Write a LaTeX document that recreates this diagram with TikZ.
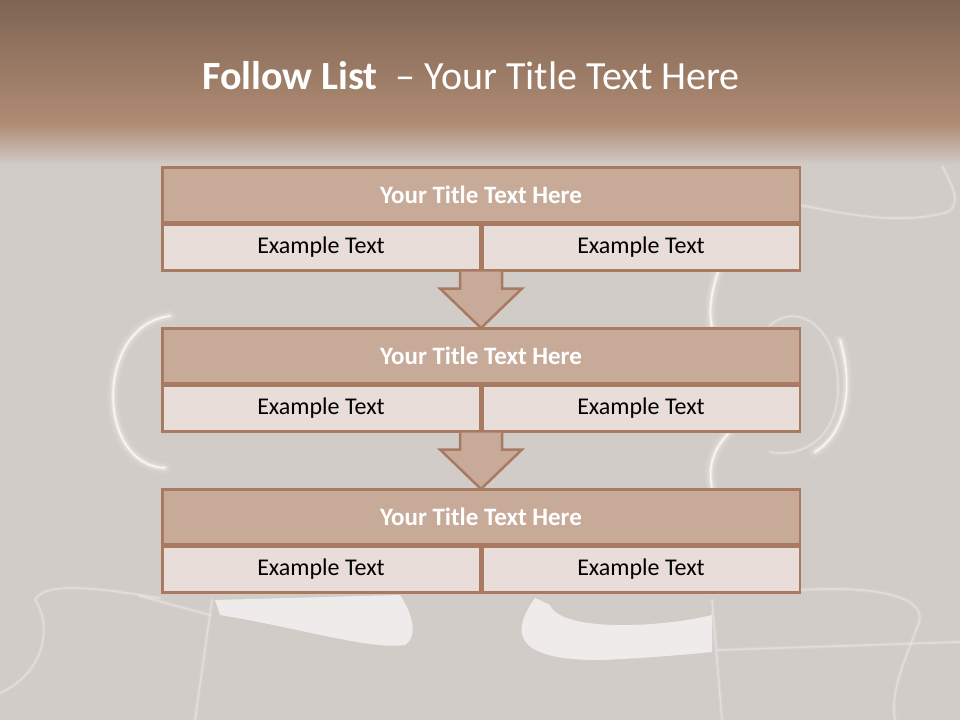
\documentclass[tikz,border=0pt]{standalone}
\usepackage{fontspec}
\setmainfont{Carlito}
\usetikzlibrary{positioning,calc}

\definecolor{bgGrey}{HTML}{D2CCC8}
\definecolor{barTop}{HTML}{7E6453}
\definecolor{barLow}{HTML}{B08C74}
\definecolor{headFill}{HTML}{C8AA98}
\definecolor{cellFill}{HTML}{E8DDD8}
\definecolor{rimBrown}{HTML}{A87A62}

\tikzset{
  headbox/.style={draw=rimBrown, line width=2.5pt, fill=headFill, anchor=north west,
    minimum width=637.5pt, minimum height=54.5pt, inner sep=0pt},
  cellbox/.style={draw=rimBrown, line width=2.5pt, fill=cellFill,
    minimum width=317.5pt, minimum height=46pt, inner sep=0pt,
    text=black, font=\fontsize{24}{28}\selectfont},
  headlabel/.style={text=white, font=\fontsize{25}{30}\selectfont\bfseries},
  flowarrow/.style={draw=rimBrown, line width=2.5pt, line join=miter},
  seam/.style={white, line cap=round, opacity=#1},
  seam/.default=0.5
}

\begin{document}
\begin{tikzpicture}[x=1pt, y=-1pt]
  % page and background
  \useasboundingbox (0,0) rectangle (960,720);
  \fill[bgGrey] (0,0) rectangle (960,720);

  % puzzle seams in the background, soft glow by layered strokes
  \foreach \w/\o in {12/0.08,7/0.15,3.5/0.3,1.5/0.7} {
    \draw[seam=\o, line width=\w pt] (170,316) .. controls (95,325) and (95,465) .. (165,468);
    \draw[seam=\o, line width=\w pt] (840,340) .. controls (852,380) and (850,430) .. (815,452);
    \draw[seam=\o, line width=\w pt] (718,272) .. controls (712,290) and (708,310) .. (712,326);
    \draw[seam=\o, line width=\w pt] (728,434) .. controls (712,450) and (708,470) .. (712,487);
  }
  \foreach \w/\o in {4/0.1,1.5/0.28} {
    \draw[seam=\o, line width=\w pt] (770,325) .. controls (800,300) and (840,330) .. (838,392)
      .. controls (836,440) and (800,458) .. (770,452);
    \draw[seam=\o, line width=\w pt] (0,693) .. controls (50,670) and (50,620) .. (35,600)
      .. controls (45,578) and (120,592) .. (160,598);
    \draw[seam=\o, line width=\w pt] (800,205) .. controls (850,215) and (900,225) .. (948,212)
      .. controls (972,195) and (925,160) .. (940,135);
    \draw[seam=\o, line width=\w pt] (800,590) .. controls (880,585) and (930,598) .. (918,625)
      .. controls (905,660) and (890,690) .. (895,720);
    \draw[seam=\o, line width=\w pt] (718,650) -- (960,642);
    \draw[seam=\o, line width=\w pt] (212,600) -- (195,720);
    \draw[seam=\o, line width=\w pt] (712,600) -- (722,720);
    \draw[seam=\o, line width=\w pt] (140,596) -- (210,615);
  }
  \foreach \o in {0.25,0.5} {
    \fill[white, opacity=\o] (215,600) -- (220,615) .. controls (300,628) and (370,650) .. (405,645)
      .. controls (420,635) and (410,610) .. (400,595) -- cycle;
    \fill[white, opacity=\o] (535,598) .. controls (505,640) and (525,660) .. (600,660)
      .. controls (650,658) and (690,654) .. (712,652) -- (712,615)
      .. controls (660,628) and (560,632) .. (550,605) -- cycle;
  }

  % title bar
  \shade[top color=barTop, bottom color=barLow] (0,0) rectangle (960,125);
  \shade[top color=barLow, bottom color=bgGrey] (0,124) rectangle (960,165);
  \node[text=white, font=\fontsize{40}{44}\selectfont] (pageTitle) at (471,76)
    {\textbf{Follow List}\ \ -- Your Title Text Here};

  % three blocks, each a title row over two cells
  \foreach \i/\y in {1/166,2/327,3/488} {
    \node[headbox] (head\i) at (161,\y) {};
    \node[headlabel] (headText\i) at (head\i.center) {Your Title Text Here};
    \node[cellbox, anchor=north west] (left\i) at (head\i.south west) {Example Text};
    \node[cellbox, anchor=north east] (right\i) at (head\i.south east) {Example Text};
  }

  % arrows from block to block
  \foreach \a/\b in {1/2,2/3} {
    \coordinate (top\a) at (left\a.south east);
    \coordinate (tip\a) at ($(head\b.north)+(0,1)$);
    \fill[headFill] ($(top\a)+(-21,0)$) -- ($(top\a)+(-21,17)$) -- ($(top\a)+(-41,17)$)
      -- (tip\a) -- ($(top\a)+(41,17)$) -- ($(top\a)+(21,17)$) -- ($(top\a)+(21,0)$) -- cycle;
    \draw[flowarrow] ($(top\a)+(-21,0)$) -- ($(top\a)+(-21,17)$) -- ($(top\a)+(-41,17)$)
      -- (tip\a) -- ($(top\a)+(41,17)$) -- ($(top\a)+(21,17)$) -- ($(top\a)+(21,0)$);
  }
\end{tikzpicture}
\end{document}
